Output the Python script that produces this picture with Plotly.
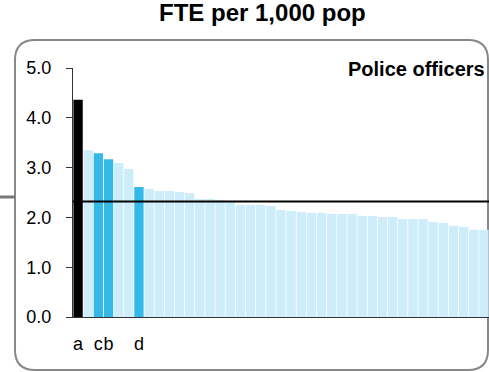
import plotly.graph_objects as go

values = [4.36, 3.35, 3.29, 3.17, 3.09, 2.97, 2.61, 2.57, 2.53, 2.53,
          2.51, 2.49, 2.37, 2.37, 2.35, 2.33, 2.25, 2.25, 2.25, 2.23,
          2.15, 2.13, 2.11, 2.09, 2.09, 2.07, 2.07, 2.07, 2.03, 2.03,
          2.01, 2.01, 1.97, 1.97, 1.97, 1.91, 1.89, 1.83, 1.81, 1.75, 1.75]
highlight = {0: "a", 2: "c", 3: "b", 6: "d"}
average = 2.32
yticks = [0, 1, 2, 3, 4, 5]

colors = []
for i in range(len(values)):
    if i == 0:
        colors.append("#000000")
    elif i in highlight:
        colors.append("#33B8E8")
    else:
        colors.append("#CCEDF9")

W, H = 489, 372
L, R, T, B = 73, 0, 68, 55
pw, ph = W - L - R, H - T - B


def px(x):
    return (x - L) / pw


def py(y):
    return (H - B - y) / ph


fig = go.Figure()
fig.add_trace(go.Bar(
    x=list(range(len(values))),
    y=values,
    marker=dict(color=colors, line=dict(width=0)),
    hoverinfo="y",
))

# rounded frame, pixel coords converted to paper
x0, x1, y0, y1, r = 15, 488, 40, 370, 20
path = (
    f"M {px(x0)},{py(y0 + r)} "
    f"Q {px(x0)},{py(y0)} {px(x0 + r)},{py(y0)} "
    f"L {px(x1 - r)},{py(y0)} "
    f"Q {px(x1)},{py(y0)} {px(x1)},{py(y0 + r)} "
    f"L {px(x1)},{py(y1 - r)} "
    f"Q {px(x1)},{py(y1)} {px(x1 - r)},{py(y1)} "
    f"L {px(x0 + r)},{py(y1)} "
    f"Q {px(x0)},{py(y1)} {px(x0)},{py(y1 - r)} Z"
)
fig.add_shape(type="path", path=path, xref="paper", yref="paper",
              line=dict(color="#888888", width=2), layer="below")
fig.add_shape(type="line", xref="paper", yref="paper",
              x0=px(0), x1=px(15), y0=py(197), y1=py(197),
              line=dict(color="#777777", width=3))
fig.add_shape(type="line", xref="x", yref="y",
              x0=-0.5, x1=len(values) - 0.5, y0=average, y1=average,
              line=dict(color="#000000", width=2))

fig.add_annotation(text="<b>FTE per 1,000 pop</b>", xref="paper", yref="paper",
                   x=px(262), y=py(13), xanchor="center", yanchor="middle",
                   showarrow=False, font=dict(size=24, color="#000000"))
fig.add_annotation(text="<b>Police officers</b>", xref="paper", yref="paper",
                   x=px(487), y=py(69), xanchor="right", yanchor="middle",
                   showarrow=False, font=dict(size=20, color="#000000"))

fig.update_layout(
    width=W, height=H,
    margin=dict(l=L, r=R, t=T, b=B),
    paper_bgcolor="white", plot_bgcolor="white",
    showlegend=False, bargap=0.08,
    font=dict(family="Liberation Sans, Arial, sans-serif", color="#000000"),
)
fig.update_xaxes(
    range=[-0.5, len(values) - 0.5],
    tickvals=list(highlight.keys()),
    ticktext=list(highlight.values()),
    tickangle=0,
    ticks="", showgrid=False, zeroline=False,
    showline=True, linecolor="#333333", linewidth=1,
    tickfont=dict(size=18), ticklabelstandoff=10,
)
fig.update_yaxes(
    range=[0, 5], tickvals=yticks,
    ticktext=[f"{v:.1f}" for v in yticks],
    ticks="outside", ticklen=6, tickcolor="#333333",
    showgrid=False, zeroline=False,
    showline=True, linecolor="#333333", linewidth=1,
    tickfont=dict(size=18), ticklabelstandoff=11,
)

fig.write_html("out.html", config={"displayModeBar": False},
               post_script="document.body.style.margin='0';")
